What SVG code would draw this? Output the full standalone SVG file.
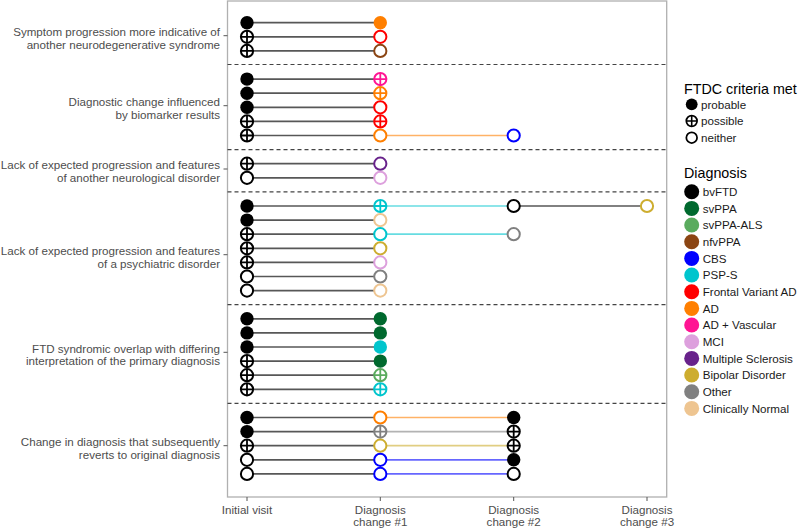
<svg xmlns="http://www.w3.org/2000/svg" xmlns:xlink="http://www.w3.org/1999/xlink" width="800" height="528" viewBox="0 0 800 528">
<style>
text{font-family:"Liberation Sans",Arial,sans-serif}
.ax{font-size:11.6px;fill:#4d4d4d}
.axl{text-anchor:end}
.axb{text-anchor:middle}
.lt{font-size:14.3px;fill:#000}
.li{font-size:11.6px;fill:#1a1a1a}
.c0{stroke:#000;stroke-opacity:0.66;stroke-width:1.7;fill:none}
.c1{stroke-opacity:0.6;stroke-width:1.7;fill:none}
.dash{stroke:#444;stroke-width:1.2;stroke-dasharray:4 3}
.tk{stroke:#555;stroke-width:1}
</style>
<defs>
<circle id="pr" r="6.7" fill="currentColor"/>
<circle id="ne" r="6.1" fill="#fff" stroke="currentColor" stroke-width="2"/>
<g id="po"><circle r="6.1" fill="#fff" stroke="currentColor" stroke-width="2"/><path d="M-6.1 0H6.1M0-6.1V6.1" stroke="currentColor" stroke-width="1.8"/></g>
<circle id="lg" r="7.5" fill="currentColor"/>
</defs>
<rect x="0" y="0" width="800" height="528" fill="#fff"/>
<rect x="227.5" y="1" width="439.2" height="496" fill="none" stroke="#b0b0b0" stroke-width="1.3"/>
<g id="gridlines">
<line class="dash" x1="227.5" y1="64.5" x2="666.7" y2="64.5"/>
<line class="dash" x1="227.5" y1="149.6" x2="666.7" y2="149.6"/>
<line class="dash" x1="227.5" y1="191.9" x2="666.7" y2="191.9"/>
<line class="dash" x1="227.5" y1="304.7" x2="666.7" y2="304.7"/>
<line class="dash" x1="227.5" y1="403.4" x2="666.7" y2="403.4"/>
</g>
<g id="y-axis">
<line class="tk" x1="223.5" y1="35.7" x2="227.5" y2="35.7"/>
<line class="tk" x1="223.5" y1="105.7" x2="227.5" y2="105.7"/>
<line class="tk" x1="223.5" y1="169" x2="227.5" y2="169"/>
<line class="tk" x1="223.5" y1="254.7" x2="227.5" y2="254.7"/>
<line class="tk" x1="223.5" y1="352.3" x2="227.5" y2="352.3"/>
<line class="tk" x1="223.5" y1="445.7" x2="227.5" y2="445.7"/>
<text class="ax axl" x="220" y="35.9">Symptom progression more indicative of</text>
<text class="ax axl" x="220" y="48.5">another neurodegenerative syndrome</text>
<text class="ax axl" x="220" y="105.9">Diagnostic change influenced</text>
<text class="ax axl" x="220" y="118.5">by biomarker results</text>
<text class="ax axl" x="220" y="169.2">Lack of expected progression and features</text>
<text class="ax axl" x="220" y="181.8">of another neurological disorder</text>
<text class="ax axl" x="220" y="254.9">Lack of expected progression and features</text>
<text class="ax axl" x="220" y="267.5">of a psychiatric disorder</text>
<text class="ax axl" x="220" y="352.5">FTD syndromic overlap with differing</text>
<text class="ax axl" x="220" y="365.1">interpretation of the primary diagnosis</text>
<text class="ax axl" x="220" y="445.9">Change in diagnosis that subsequently</text>
<text class="ax axl" x="220" y="458.5">reverts to original diagnosis</text>
</g>
<g id="x-axis">
<line class="tk" x1="247" y1="497" x2="247" y2="501"/>
<line class="tk" x1="380.3" y1="497" x2="380.3" y2="501"/>
<line class="tk" x1="513.7" y1="497" x2="513.7" y2="501"/>
<line class="tk" x1="647" y1="497" x2="647" y2="501"/>
<text class="ax axb" x="247" y="513.5">Initial visit</text>
<text class="ax axb" x="380.3" y="513.5">Diagnosis</text>
<text class="ax axb" x="380.3" y="526">change #1</text>
<text class="ax axb" x="513.7" y="513.5">Diagnosis</text>
<text class="ax axb" x="513.7" y="526">change #2</text>
<text class="ax axb" x="647" y="513.5">Diagnosis</text>
<text class="ax axb" x="647" y="526">change #3</text>
</g>
<g id="connectors">
<path class="c0" d="M247 22.7H380.3M247 36.8H380.3M247 50.9H380.3M247 79.1H380.3M247 93.2H380.3M247 107.3H380.3M247 121.4H380.3M247 135.5H380.3M247 163.7H380.3M247 177.8H380.3M247 206H380.3M247 220.1H380.3M247 234.2H380.3M247 248.3H380.3M247 262.4H380.3M247 276.5H380.3M247 290.6H380.3M247 318.8H380.3M247 332.9H380.3M247 347H380.3M247 361.1H380.3M247 375.2H380.3M247 389.3H380.3M247 417.5H380.3M247 431.6H380.3M247 445.7H380.3M247 459.8H380.3M247 473.9H380.3"/>
<line class="c1" stroke="#ff7f00" x1="380.3" y1="135.5" x2="513.7" y2="135.5"/>
<line class="c1" stroke="#00c5cd" x1="380.3" y1="206" x2="513.7" y2="206"/>
<line class="c0" x1="513.7" y1="206" x2="647" y2="206"/>
<line class="c1" stroke="#00c5cd" x1="380.3" y1="234.2" x2="513.7" y2="234.2"/>
<line class="c1" stroke="#ff7f00" x1="380.3" y1="417.5" x2="513.7" y2="417.5"/>
<line class="c1" stroke="#808080" x1="380.3" y1="431.6" x2="513.7" y2="431.6"/>
<line class="c1" stroke="#cdad2f" x1="380.3" y1="445.7" x2="513.7" y2="445.7"/>
<line class="c1" stroke="#0000ff" x1="380.3" y1="459.8" x2="513.7" y2="459.8"/>
<line class="c1" stroke="#0000ff" x1="380.3" y1="473.9" x2="513.7" y2="473.9"/>
</g>
<g id="nodes">
<g id="n0a" color="#000"><use href="#pr" x="247" y="22.7"/></g>
<g id="n0b" color="#ff7f00"><use href="#pr" x="380.3" y="22.7"/></g>
<g id="n1a" color="#000"><use href="#po" x="247" y="36.8"/></g>
<g id="n1b" color="#ff0000"><use href="#ne" x="380.3" y="36.8"/></g>
<g id="n2a" color="#000"><use href="#po" x="247" y="50.9"/></g>
<g id="n2b" color="#8b4513"><use href="#ne" x="380.3" y="50.9"/></g>
<g id="n4a" color="#000"><use href="#pr" x="247" y="79.1"/></g>
<g id="n4b" color="#ff1493"><use href="#po" x="380.3" y="79.1"/></g>
<g id="n5a" color="#000"><use href="#pr" x="247" y="93.2"/></g>
<g id="n5b" color="#ff7f00"><use href="#po" x="380.3" y="93.2"/></g>
<g id="n6a" color="#000"><use href="#pr" x="247" y="107.3"/></g>
<g id="n6b" color="#ff0000"><use href="#ne" x="380.3" y="107.3"/></g>
<g id="n7a" color="#000"><use href="#po" x="247" y="121.4"/></g>
<g id="n7b" color="#ff0000"><use href="#po" x="380.3" y="121.4"/></g>
<g id="n8a" color="#000"><use href="#po" x="247" y="135.5"/></g>
<g id="n8b" color="#ff7f00"><use href="#ne" x="380.3" y="135.5"/></g>
<g id="n8c" color="#0000ff"><use href="#ne" x="513.7" y="135.5"/></g>
<g id="n10a" color="#000"><use href="#po" x="247" y="163.7"/></g>
<g id="n10b" color="#68228b"><use href="#ne" x="380.3" y="163.7"/></g>
<g id="n11a" color="#000"><use href="#ne" x="247" y="177.8"/></g>
<g id="n11b" color="#dda0dd"><use href="#ne" x="380.3" y="177.8"/></g>
<g id="n13a" color="#000"><use href="#pr" x="247" y="206"/></g>
<g id="n13b" color="#00c5cd"><use href="#po" x="380.3" y="206"/></g>
<g id="n13c" color="#000"><use href="#ne" x="513.7" y="206"/></g>
<g id="n13d" color="#cdad2f"><use href="#ne" x="647" y="206"/></g>
<g id="n14a" color="#000"><use href="#pr" x="247" y="220.1"/></g>
<g id="n14b" color="#eec591"><use href="#ne" x="380.3" y="220.1"/></g>
<g id="n15a" color="#000"><use href="#po" x="247" y="234.2"/></g>
<g id="n15b" color="#00c5cd"><use href="#ne" x="380.3" y="234.2"/></g>
<g id="n15c" color="#808080"><use href="#ne" x="513.7" y="234.2"/></g>
<g id="n16a" color="#000"><use href="#po" x="247" y="248.3"/></g>
<g id="n16b" color="#cdad2f"><use href="#ne" x="380.3" y="248.3"/></g>
<g id="n17a" color="#000"><use href="#po" x="247" y="262.4"/></g>
<g id="n17b" color="#dda0dd"><use href="#ne" x="380.3" y="262.4"/></g>
<g id="n18a" color="#000"><use href="#ne" x="247" y="276.5"/></g>
<g id="n18b" color="#808080"><use href="#ne" x="380.3" y="276.5"/></g>
<g id="n19a" color="#000"><use href="#ne" x="247" y="290.6"/></g>
<g id="n19b" color="#eec591"><use href="#ne" x="380.3" y="290.6"/></g>
<g id="n21a" color="#000"><use href="#pr" x="247" y="318.8"/></g>
<g id="n21b" color="#00692e"><use href="#pr" x="380.3" y="318.8"/></g>
<g id="n22a" color="#000"><use href="#pr" x="247" y="332.9"/></g>
<g id="n22b" color="#00692e"><use href="#pr" x="380.3" y="332.9"/></g>
<g id="n23a" color="#000"><use href="#pr" x="247" y="347"/></g>
<g id="n23b" color="#00c5cd"><use href="#pr" x="380.3" y="347"/></g>
<g id="n24a" color="#000"><use href="#po" x="247" y="361.1"/></g>
<g id="n24b" color="#00692e"><use href="#pr" x="380.3" y="361.1"/></g>
<g id="n25a" color="#000"><use href="#po" x="247" y="375.2"/></g>
<g id="n25b" color="#5aab5e"><use href="#po" x="380.3" y="375.2"/></g>
<g id="n26a" color="#000"><use href="#po" x="247" y="389.3"/></g>
<g id="n26b" color="#00c5cd"><use href="#po" x="380.3" y="389.3"/></g>
<g id="n28a" color="#000"><use href="#pr" x="247" y="417.5"/></g>
<g id="n28b" color="#ff7f00"><use href="#ne" x="380.3" y="417.5"/></g>
<g id="n28c" color="#000"><use href="#pr" x="513.7" y="417.5"/></g>
<g id="n29a" color="#000"><use href="#pr" x="247" y="431.6"/></g>
<g id="n29b" color="#808080"><use href="#po" x="380.3" y="431.6"/></g>
<g id="n29c" color="#000"><use href="#po" x="513.7" y="431.6"/></g>
<g id="n30a" color="#000"><use href="#po" x="247" y="445.7"/></g>
<g id="n30b" color="#cdad2f"><use href="#ne" x="380.3" y="445.7"/></g>
<g id="n30c" color="#000"><use href="#po" x="513.7" y="445.7"/></g>
<g id="n31a" color="#000"><use href="#ne" x="247" y="459.8"/></g>
<g id="n31b" color="#0000ff"><use href="#ne" x="380.3" y="459.8"/></g>
<g id="n31c" color="#000"><use href="#pr" x="513.7" y="459.8"/></g>
<g id="n32a" color="#000"><use href="#ne" x="247" y="473.9"/></g>
<g id="n32b" color="#0000ff"><use href="#ne" x="380.3" y="473.9"/></g>
<g id="n32c" color="#000"><use href="#ne" x="513.7" y="473.9"/></g>
</g>
<g id="legend-ftdc">
<text class="lt" x="684" y="94">FTDC criteria met</text>
<g color="#000"><use href="#pr" transform="translate(691.7 104.3) scale(0.88)"/></g>
<g color="#000"><use href="#po" transform="translate(691.7 121) scale(0.88)"/></g>
<g color="#000"><use href="#ne" transform="translate(691.7 137.7) scale(0.88)"/></g>
<text class="li" x="701" y="108.5">probable</text>
<text class="li" x="701" y="125.2">possible</text>
<text class="li" x="701" y="141.9">neither</text>
</g>
<g id="legend-diagnosis">
<text class="lt" x="684" y="178.3">Diagnosis</text>
<g color="#000"><use href="#lg" x="691.7" y="191.7"/></g><text class="li" x="702.7" y="195.9">bvFTD</text>
<g color="#00692e"><use href="#lg" x="691.7" y="208.4"/></g><text class="li" x="702.7" y="212.6">svPPA</text>
<g color="#5aab5e"><use href="#lg" x="691.7" y="225"/></g><text class="li" x="702.7" y="229.2">svPPA-ALS</text>
<g color="#8b4513"><use href="#lg" x="691.7" y="241.7"/></g><text class="li" x="702.7" y="245.9">nfvPPA</text>
<g color="#0000ff"><use href="#lg" x="691.7" y="258.4"/></g><text class="li" x="702.7" y="262.6">CBS</text>
<g color="#00c5cd"><use href="#lg" x="691.7" y="275"/></g><text class="li" x="702.7" y="279.2">PSP-S</text>
<g color="#ff0000"><use href="#lg" x="691.7" y="291.7"/></g><text class="li" x="702.7" y="295.9">Frontal Variant AD</text>
<g color="#ff7f00"><use href="#lg" x="691.7" y="308.4"/></g><text class="li" x="702.7" y="312.6">AD</text>
<g color="#ff1493"><use href="#lg" x="691.7" y="325"/></g><text class="li" x="702.7" y="329.2">AD + Vascular</text>
<g color="#dda0dd"><use href="#lg" x="691.7" y="341.7"/></g><text class="li" x="702.7" y="345.9">MCI</text>
<g color="#68228b"><use href="#lg" x="691.7" y="358.4"/></g><text class="li" x="702.7" y="362.6">Multiple Sclerosis</text>
<g color="#cdad2f"><use href="#lg" x="691.7" y="375"/></g><text class="li" x="702.7" y="379.2">Bipolar Disorder</text>
<g color="#808080"><use href="#lg" x="691.7" y="391.7"/></g><text class="li" x="702.7" y="395.9">Other</text>
<g color="#eec591"><use href="#lg" x="691.7" y="408.4"/></g><text class="li" x="702.7" y="412.6">Clinically Normal</text>
</g>
</svg>
